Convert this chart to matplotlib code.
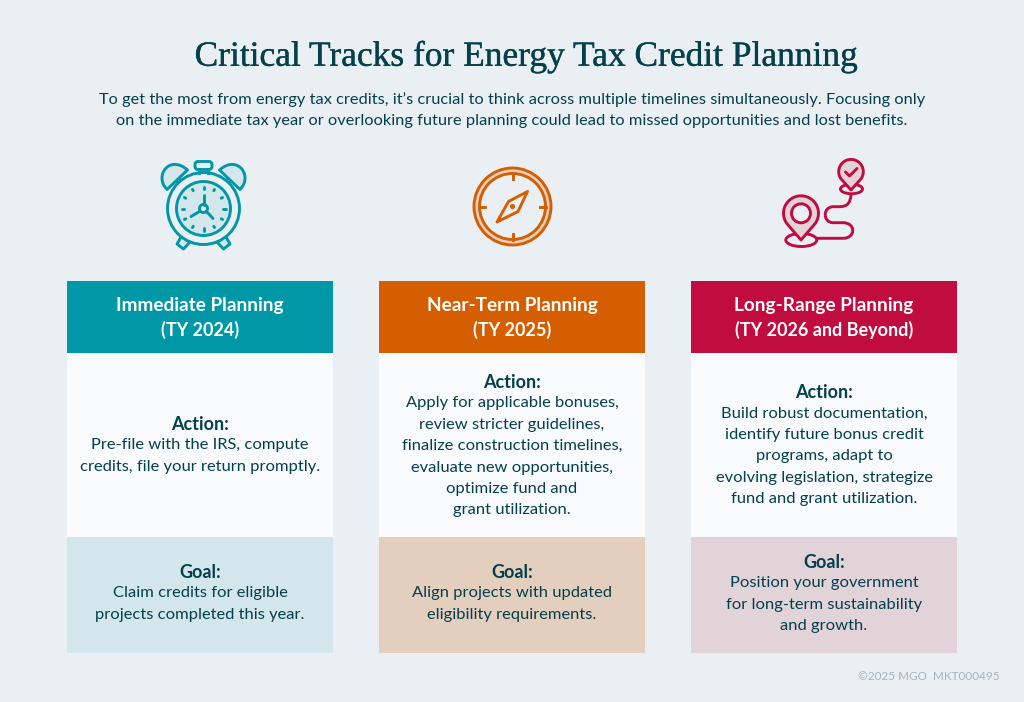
import numpy as np
import matplotlib
matplotlib.use('Agg')
import matplotlib.pyplot as plt
import matplotlib.patheffects as pe
from matplotlib.patches import Rectangle, Circle, Ellipse, Polygon, FancyBboxPatch
from matplotlib.path import Path
from matplotlib.patches import PathPatch

plt.rcParams['font.family'] = ['Lato', 'DejaVu Sans']

BG = '#eaeff3'
DARK = '#04404c'

title = 'Critical Tracks for Energy Tax Credit Planning'
intro = ["To get the most from energy tax credits, it\u2019s crucial to think across multiple timelines simultaneously. Focusing only",
         "on the immediate tax year or overlooking future planning could lead to missed opportunities and lost benefits."]

headers = [['Immediate Planning', '(TY 2024)'],
           ['Near-Term Planning', '(TY 2025)'],
           ['Long-Range Planning', '(TY 2026 and Beyond)']]
actions = [['Pre-file with the IRS, compute', 'credits, file your return promptly.'],
           ['Apply for applicable bonuses,', 'review stricter guidelines,', 'finalize construction timelines,',
            'evaluate new opportunities,', 'optimize fund and', 'grant utilization.'],
           ['Build robust documentation,', 'identify future bonus credit', 'programs, adapt to',
            'evolving legislation, strategize', 'fund and grant utilization.']]
goals = [['Claim credits for eligible', 'projects completed this year.'],
         ['Align projects with updated', 'eligibility requirements.'],
         ['Position your government', 'for long-term sustainability', 'and growth.']]
head_colors = ['#0097a7', '#d55f00', '#c00c3f']
goal_colors = ['#d2e6ec', '#e4cfbf', '#e2d3d8']
col_left = [67, 379, 691]
action_top = [424, 382, 392]
goal_top = [572, 572, 562]
footer = '\u00a92025 MGO  MKT000495'

fig = plt.figure(figsize=(10.24, 7.02), dpi=100, facecolor=BG)
ax = fig.add_axes([0, 0, 1, 1])
ax.set_xlim(0, 1024)
ax.set_ylim(702, 0)
ax.axis('off')

ax.text(526, 57, title, ha='center', va='center', fontsize=25.5, color=DARK,
        family='Liberation Serif',
        path_effects=[pe.withStroke(linewidth=0.25, foreground=DARK)])
for i, line in enumerate(intro):
    ax.text(512, 100 + i * 21.5, line, ha='center', va='center', fontsize=11.8, color=DARK)

LH = 21.4
W = 266
for c in range(3):
    x0 = col_left[c]
    cx = x0 + W / 2
    ax.add_patch(Rectangle((x0, 281), W, 72, fc=head_colors[c], ec='none'))
    ax.add_patch(Rectangle((x0, 353), W, 184, fc='#f8fafc', ec='none'))
    ax.add_patch(Rectangle((x0, 537), W, 116, fc=goal_colors[c], ec='none'))
    ax.text(cx, 305, headers[c][0], ha='center', va='center', fontsize=13.7,
            fontweight='bold', color='white')
    ax.text(cx, 330, headers[c][1], ha='center', va='center', fontsize=13,
            fontweight='bold', color='white')
    y = action_top[c]
    ax.text(cx, y, 'Action:', ha='center', va='center', fontsize=13, fontweight='bold', color=DARK)
    for i, line in enumerate(actions[c]):
        ax.text(cx, y + (i + 1) * LH, line, ha='center', va='center', fontsize=11.85, color=DARK)
    y = goal_top[c]
    ax.text(cx, y, 'Goal:', ha='center', va='center', fontsize=13, fontweight='bold', color=DARK)
    for i, line in enumerate(goals[c]):
        ax.text(cx, y + (i + 1) * LH, line, ha='center', va='center', fontsize=11.85, color=DARK)

ax.text(1000, 677, footer, ha='right', va='center', fontsize=8.5, color='#a6b4c0')

lw = 2.1

# alarm clock icon
T = '#0097a7'
TL = '#d2e6ec'
cx, cy = 203.5, 208.5
curve = [Path.MOVETO, Path.CURVE4, Path.CURVE4, Path.CURVE4, Path.CLOSEPOLY]
for s in [-1, 1]:
    bell = [(cx + s * 36.5, 189.5), (cx + s * 50, 176), (cx + s * 34, 154), (cx + s * 16, 170), (cx + s * 36.5, 189.5)]
    ax.add_patch(PathPatch(Path(bell, curve), fc=TL, ec=T, lw=lw, joinstyle='round'))
    ax.add_patch(Polygon([[cx + s * 22, 236], [cx + s * 26.5, 244], [cx + s * 20, 249], [cx + s * 13.5, 242]],
                         fc=TL, ec=T, lw=lw, joinstyle='round'))
    ax.add_patch(Circle((cx + s * 24.5, 181), 2, fc=BG, ec=T, lw=1.5))
ax.add_patch(Circle((cx, cy), 36, fc=BG, ec=T, lw=lw))
ax.add_patch(Circle((cx, cy), 27, fc=TL, ec=T, lw=lw))
for a in np.arange(0, 360, 30):
    r0, r1 = (19.5, 22) if a % 90 == 0 else (20.5, 22)
    ca, sa = np.cos(np.radians(a)), np.sin(np.radians(a))
    ax.plot([cx + r0 * ca, cx + r1 * ca], [cy + r0 * sa, cy + r1 * sa], color=T, lw=lw, solid_capstyle='round')
ax.plot([cx, cx], [cy - 4, cy - 14], color=T, lw=lw, solid_capstyle='round')
ax.plot([cx - 4, cx - 12.5], [cy + 3, cy + 8], color=T, lw=lw, solid_capstyle='round')
ax.plot([cx + 3, cx + 9.5], [cy + 3, cy + 10], color=T, lw=lw, solid_capstyle='round')
ax.add_patch(Circle((cx, cy), 4, fc=BG, ec=T, lw=lw))
ax.plot([199, 199], [169, 173], color=T, lw=lw)
ax.plot([208, 208], [169, 173], color=T, lw=lw)
ax.add_patch(FancyBboxPatch((196.5, 163), 14, 5, boxstyle='round,pad=1.5,rounding_size=3', fc=BG, ec=T, lw=lw))

# compass icon
O = '#d55f00'
cx, cy = 512.5, 206.5
ax.add_patch(Circle((cx, cy), 38.5, fc='#e4cfbf', ec=O, lw=lw))
ax.add_patch(Circle((cx, cy), 33, fc=BG, ec=O, lw=lw))
for a in range(0, 360, 90):
    ca, sa = np.cos(np.radians(a)), np.sin(np.radians(a))
    ax.plot([cx + 27.5 * ca, cx + 33 * ca], [cy + 27.5 * sa, cy + 33 * sa], color=O, lw=lw)
ax.add_patch(Polygon([[527.5, 191.5], [508.5, 201.5], [497, 222], [518, 211.5]], fc=BG, ec=O, lw=lw, joinstyle='round'))
ax.add_patch(Circle((cx, cy), 2.6, fc=O, ec='none'))

# route icon
R = '#c00c3f'
RL = '#e2d3d8'
def pin(cx, cy, r, tip):
    a = np.radians(np.linspace(-215, 35, 40))
    xs = cx + r * np.cos(a)
    ys = cy + r * np.sin(a)
    return np.column_stack([np.append(xs, cx), np.append(ys, tip)])
ax.add_patch(Ellipse((851.5, 189), 22, 9.5, fc=BG, ec=R, lw=lw))
ax.add_patch(Ellipse((801.3, 240), 31, 13, fc=BG, ec=R, lw=lw))
ax.add_patch(Polygon(pin(851, 171.7, 12.3, 190), fc=RL, ec=R, lw=lw, joinstyle='round'))
ax.add_patch(Polygon(pin(801, 213.3, 17.5, 240), fc=RL, ec=R, lw=lw, joinstyle='round'))
ax.add_patch(Circle((801, 213.3), 9.5, fc=BG, ec=R, lw=lw))
ax.plot([845.5, 849.5, 857], [172, 176, 168.5], color=R, lw=lw, solid_capstyle='round')
verts = [(851, 194), (851, 206.7), (840, 206.7), (833.3, 206.7), (822.5, 206.7), (822.5, 222.7), (833.3, 222.7),
         (843, 222.7), (856, 222.7), (856, 238.3), (843, 238.3), (817, 238.3)]
codes = [Path.MOVETO, Path.CURVE3, Path.CURVE3, Path.LINETO, Path.CURVE4, Path.CURVE4, Path.CURVE4,
         Path.LINETO, Path.CURVE4, Path.CURVE4, Path.CURVE4, Path.LINETO]
ax.add_patch(PathPatch(Path(verts, codes), fc='none', ec=R, lw=lw))

fig.savefig('out.png', dpi=100, facecolor=BG)
